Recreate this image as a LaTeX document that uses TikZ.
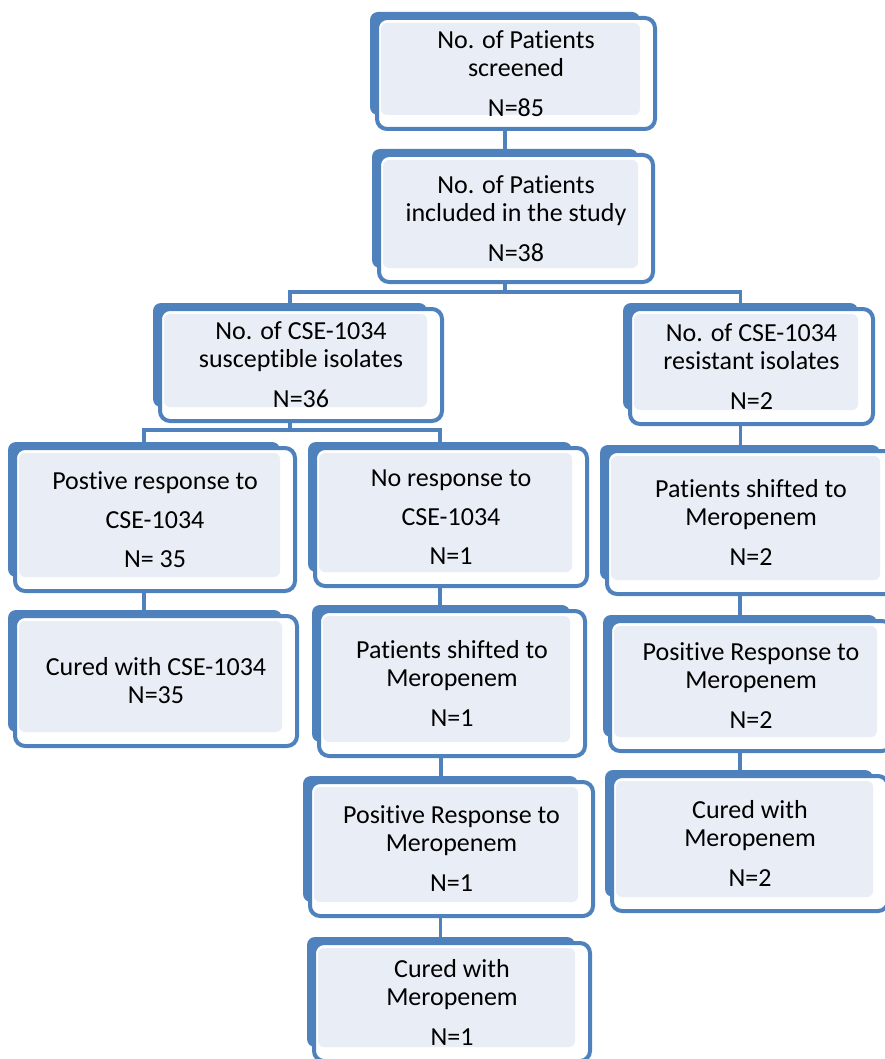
\documentclass[tikz,border=0pt]{standalone}
\usepackage{fontspec}
\setmainfont[Ligatures=NoCommon]{Carlito}
\usetikzlibrary{backgrounds,calc}
\definecolor{boxblue}{RGB}{79,129,189}
\definecolor{panel}{RGB}{233,238,246}
\tikzset{
  backbox/.style={fill=boxblue, draw=none, rounded corners=8pt, inner sep=0pt, outer sep=0pt, anchor=north west},
  frontbox/.style={draw=boxblue, line width=4pt, fill=white, rounded corners=10pt, inner sep=0pt, outer sep=0pt, anchor=north west},
  panelbox/.style={fill=panel, draw=none, rounded corners=6pt, inner sep=0pt, outer sep=0pt, anchor=north west},
  boxlabel/.style={align=center, font=\fontsize{26}{28}\selectfont, inner sep=0pt},
  link/.style={draw=boxblue, line width=3.6pt}
}
\newcommand\flowbox[6]{%
  \node[backbox, minimum width={#4-#2}, minimum height={#5-#3}] (a#1) at (#2,#3) {};
  \node[frontbox, minimum width={#4-#2+8}, minimum height={#5-#3+8}] (b#1) at (#2+7,#3+6) {};
  \node[panelbox, minimum width={#4-#2-11}, minimum height={#5-#3-11}] (p#1) at (#2+11,#3+11) {};
  \node[boxlabel] (t#1) at (b#1.center) {#6};
}
\begin{document}
\begin{tikzpicture}[x=1pt,y=-1pt]
\useasboundingbox (0,0) rectangle (885,1059);
\clip (0,0) rectangle (885,1059);
\flowbox{1}{370}{12}{640}{115}{No. of Patients\\screened\\[12pt]N=85}
\flowbox{2}{372}{149}{638}{268}{No. of Patients\\included in the study\\[12pt]N=38}
\flowbox{3}{153}{303}{427}{407}{No. of CSE-1034\\susceptible isolates\\[12pt]N=36}
\flowbox{4}{623}{303}{858}{410}{No. of CSE-1034\\resistant isolates\\[12pt]N=2}
\flowbox{5}{8}{442}{280}{577}{Postive response to\\[11pt]CSE-1034\\[11pt]N= 35}
\flowbox{6}{308}{442}{572}{572}{No response to\\[11pt]CSE-1034\\[11pt]N=1}
\flowbox{7}{600}{445}{880}{580}{Patients shifted to\\Meropenem\\[12pt]N=2}
\flowbox{8}{8}{610}{282}{732}{Cured with CSE-1034\\N=35}
\flowbox{9}{312}{605}{570}{742}{Patients shifted to\\Meropenem\\[12pt]N=1}
\flowbox{10}{303}{776}{578}{902}{Positive Response to\\Meropenem\\[12pt]N=1}
\flowbox{11}{307}{937}{575}{1047}{Cured with\\Meropenem\\[12pt]N=1}
\flowbox{12}{603}{615}{877}{737}{Positive Response to\\Meropenem\\[12pt]N=2}
\flowbox{13}{605}{770}{873}{897}{Cured with\\Meropenem\\[12pt]N=2}
\coordinate (bus1) at (505,292);
\coordinate (bus2) at (290,430);
\begin{pgfonlayer}{background}
  \fill[white] (0,0) rectangle (885,1059);
  \draw[link] (a1.south) -- (a1.south |- a2.north);
  \draw[link] (a2.south) -- (bus1);
  \draw[link] (a3.north) |- (bus1) -| (a4.north);
  \draw[link] (a3.south) -- (bus2);
  \draw[link] (a5.north) |- (bus2) -| (a6.north);
  \draw[link] (a5.south) -- (a5.south |- a8.north);
  \draw[link] (a6.south) -- (a6.south |- a9.north);
  \draw[link] (a9.south) -- (a9.south |- a10.north);
  \draw[link] (a10.south) -- (a10.south |- a11.north);
  \draw[link] (a4.south) -- (a4.south |- a7.north);
  \draw[link] (a7.south) -- (a7.south |- a12.north);
  \draw[link] (a12.south) -- (a12.south |- a13.north);
\end{pgfonlayer}
\end{tikzpicture}
\end{document}
